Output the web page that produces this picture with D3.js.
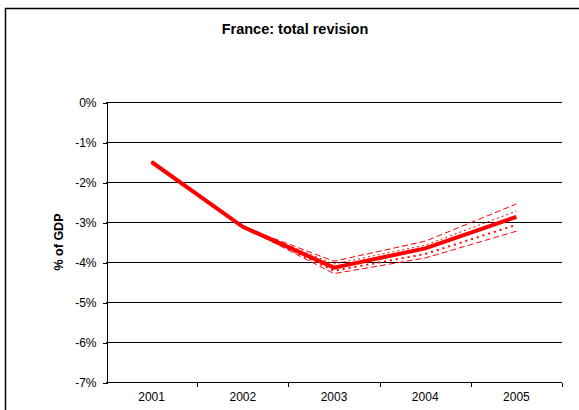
<!DOCTYPE html>
<html lang="en">
  <head>
    <meta charset="utf-8">
    <title>France: total revision</title>
    <style>
      body { margin: 0; background: #fff; }
      svg text { font-family: "Liberation Sans", Arial, sans-serif; fill: #000; }
      .grid line { stroke: #000; stroke-width: 1; shape-rendering: crispEdges; }
      .axis path, .axis line { stroke: #000; shape-rendering: crispEdges; }
    </style>
  </head>
  <body>
<svg id="chart" width="579" height="410"></svg>
<script src="https://d3js.org/d3.v7.min.js"></script>
<script>

// data
var years = ["2001", "2002", "2003", "2004", "2005"];
var central = [-1.5, -3.12, -4.14, -3.66, -2.87];
var upperDashed = [-1.5, -3.12, -3.98, -3.48, -2.55];
var upperDotted = [-1.5, -3.12, -4.05, -3.58, -2.73];
var lowerDotted = [-1.5, -3.12, -4.22, -3.8, -3.07];
var lowerDashed = [-1.5, -3.12, -4.29, -3.9, -3.23];
var yTicks = [0, -1, -2, -3, -4, -5, -6, -7];

var svg = d3.select("svg#chart");
var plotLeft = 106, plotRight = 562, plotTop = 102, plotBottom = 382;

var x = d3.scaleBand().domain(years).range([plotLeft, plotRight]);
var y = d3.scaleLinear().domain([-7, 0]).range([plotBottom, plotTop]);

// outer frame
svg.append("rect")
    .attr("x", 5.5).attr("y", 8.5)
    .attr("width", 600).attr("height", 420)
    .attr("fill", "none").attr("stroke", "#000").attr("stroke-width", 1.5);

svg.append("text")
    .attr("x", 295).attr("y", 34)
    .attr("text-anchor", "middle")
    .style("font-size", "14.5px").style("font-weight", "bold")
    .text("France: total revision");

svg.append("g").attr("class", "grid")
  .selectAll("line")
  .data(yTicks.filter(function(d) { return d > -7; }))
  .enter().append("line")
    .attr("x1", plotLeft).attr("x2", plotRight)
    .attr("y1", function(d) { return Math.round(y(d)) + 0.5; })
    .attr("y2", function(d) { return Math.round(y(d)) + 0.5; });

var yAxis = d3.axisLeft(y)
    .tickValues(yTicks)
    .tickSize(4)
    .tickPadding(6)
    .tickFormat(function(d) { return d + "%"; });

svg.append("g").attr("class", "axis")
    .attr("transform", "translate(" + (plotLeft + 0.5) + ",0.5)")
    .call(yAxis)
    .call(function(g) { g.selectAll("text").style("font-size", "12px"); });

var xAxis = d3.axisBottom(x).tickSize(0).tickPadding(10);
var xg = svg.append("g").attr("class", "axis")
    .attr("transform", "translate(0," + (plotBottom + 0.5) + ")")
    .call(xAxis);
xg.select(".domain").attr("d", "M" + plotLeft + ",0H" + plotRight);
xg.selectAll("text").style("font-size", "12px");
// category separators
xg.selectAll("line.sep")
  .data(years)
  .enter().append("line")
    .attr("class", "sep")
    .attr("x1", function(d) { return Math.round(x(d) + x.bandwidth()) + 0.5; })
    .attr("x2", function(d) { return Math.round(x(d) + x.bandwidth()) + 0.5; })
    .attr("y1", 0).attr("y2", 4);

svg.append("text")
    .attr("transform", "translate(63," + ((plotTop + plotBottom) / 2) + ") rotate(-90)")
    .attr("text-anchor", "middle")
    .style("font-size", "12.5px").style("font-weight", "bold")
    .text("% of GDP");

var line = d3.line()
    .x(function(d, i) { return x(years[i]) + x.bandwidth() / 2; })
    .y(function(d) { return y(d); });

var series = [
  {values: upperDashed, width: 1, dash: "6,3"},
  {values: lowerDashed, width: 1, dash: "6,3"},
  {values: upperDotted, width: 1, dash: "2,3"},
  {values: lowerDotted, width: 2, dash: "2,4"},
  {values: central, width: 4, dash: null}
];

svg.append("g").selectAll("path")
  .data(series)
  .enter().append("path")
    .attr("d", function(d) { return line(d.values); })
    .attr("fill", "none")
    .attr("stroke", "#ff0000")
    .attr("stroke-width", function(d) { return d.width; })
    .attr("stroke-dasharray", function(d) { return d.dash; });

</script>
  </body>
</html>
